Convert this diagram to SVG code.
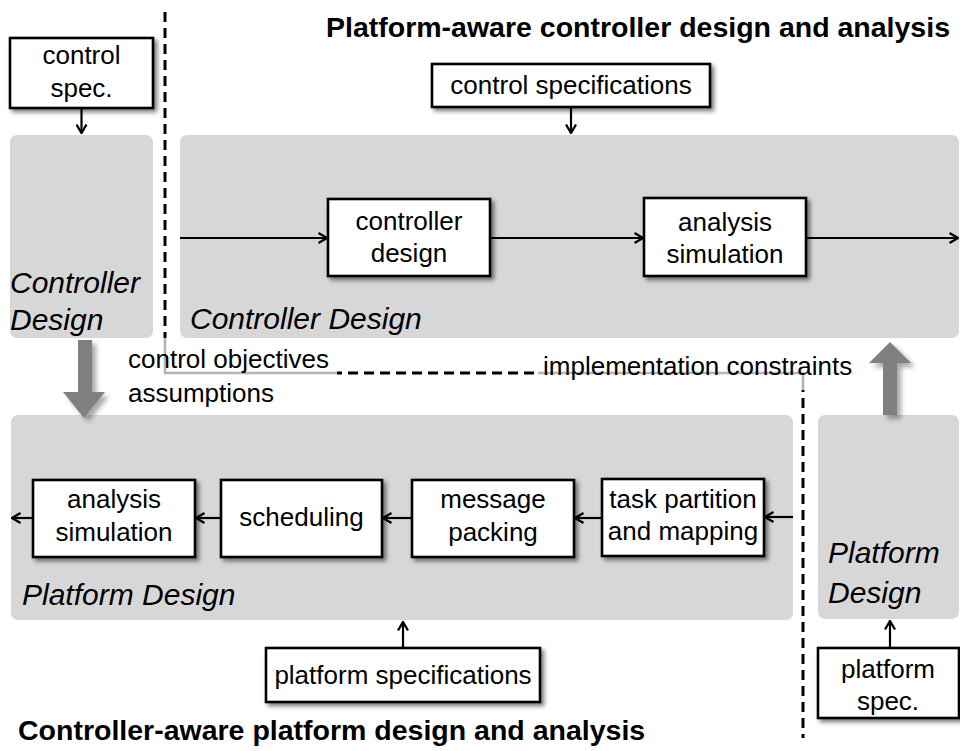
<svg xmlns="http://www.w3.org/2000/svg" width="960" height="751" viewBox="0 0 960 751">
  <style>
    .panel { fill: #d8d7d8; }
    .box { fill: #ffffff; stroke: #000000; stroke-width: 2.6; filter: url(#shadow); }
    .txt { font-family: "Liberation Sans", Arial, sans-serif; font-size: 26px; fill: #000000; text-anchor: middle; }
    .lbl { font-family: "Liberation Sans", Arial, sans-serif; font-size: 26px; fill: #000000; }
    .ital { font-family: "Liberation Sans", Arial, sans-serif; font-size: 30px; font-style: italic; fill: #000000; }
    .title { font-family: "Liberation Sans", Arial, sans-serif; font-size: 28.5px; font-weight: bold; fill: #000000; }
    .conn { fill: none; stroke: #000000; stroke-width: 2.2; marker-end: url(#arrow); }
    .dash { fill: none; stroke: #000000; stroke-width: 3; stroke-dasharray: 10 6; }
    .faint { fill: none; stroke: #b4b4b4; stroke-width: 2.5; }
    .big { fill: #808080; filter: url(#shadow2); }
  </style>
  <defs>
    <marker id="arrow" viewBox="0 0 12 12" refX="11" refY="6" markerWidth="12" markerHeight="12" markerUnits="userSpaceOnUse" orient="auto">
      <path d="M2.5,1 L11,6 L2.5,11" fill="none" stroke="#000000" stroke-width="2.3"/>
    </marker>
    <filter id="shadow" x="-10%" y="-10%" width="130%" height="140%">
      <feDropShadow dx="3" dy="3" stdDeviation="2" flood-color="#000000" flood-opacity="0.5"/>
    </filter>
    <filter id="shadow2" x="-30%" y="-20%" width="170%" height="150%">
      <feDropShadow dx="4" dy="4" stdDeviation="2.5" flood-color="#000000" flood-opacity="0.35"/>
    </filter>
  </defs>

  <rect width="960" height="751" fill="#ffffff"/>

  <!-- titles -->
  <text class="title" x="950" y="37" text-anchor="end">Platform-aware controller design and analysis</text>
  <text class="title" x="18" y="740">Controller-aware platform design and analysis</text>

  <!-- design panels -->
  <g id="ctrl-panel-small">
    <rect class="panel" x="10" y="135" width="143" height="203" rx="7"/>
    <text class="ital" x="10" y="293">Controller</text>
    <text class="ital" x="10" y="330">Design</text>
  </g>
  <g id="ctrl-panel-main">
    <rect class="panel" x="180" y="135" width="779" height="203" rx="7"/>
    <text class="ital" x="190" y="329">Controller Design</text>
  </g>
  <g id="plat-panel-main">
    <rect class="panel" x="11" y="415" width="782" height="205" rx="7"/>
    <text class="ital" x="22" y="605">Platform Design</text>
  </g>
  <g id="plat-panel-small">
    <rect class="panel" x="818" y="415" width="141" height="204" rx="7"/>
    <text class="ital" x="828" y="563">Platform</text>
    <text class="ital" x="828" y="603">Design</text>
  </g>

  <!-- boundary between the two design flows -->
  <g id="boundary">
    <path class="dash" d="M165,12 V373 H803 V738"/>
  </g>

  <!-- exchanged information labels -->
  <g id="label-objectives">
    <rect x="117" y="338" width="220" height="75" fill="#ffffff"/>
    <path class="faint" d="M165,338 V373 H337"/>
    <text class="lbl" x="128" y="368">control objectives</text>
    <text class="lbl" x="128" y="402">assumptions</text>
  </g>
  <g id="label-constraints">
    <rect x="538" y="345" width="320" height="45" fill="#ffffff"/>
    <path class="faint" d="M538,373 H803 V390"/>
    <text class="lbl" x="543" y="375">implementation constraints</text>
  </g>

  <!-- thick transfer arrows -->
  <g id="transfer-down">
    <polygon class="big" points="78,340 92,340 92,392 105,392 84,418 63,392 78,392"/>
  </g>
  <g id="transfer-up">
    <polygon class="big" points="883,415 897,415 897,363 911,363 890,342 869,363 883,363"/>
  </g>

  <!-- specification inputs -->
  <g id="control-spec">
    <rect class="box" x="10" y="38" width="143" height="70"/>
    <text class="txt" x="81.5" y="64">control</text>
    <text class="txt" x="81.5" y="97">spec.</text>
  </g>
  <g id="control-specifications">
    <rect class="box" x="432" y="64" width="278" height="43"/>
    <text class="txt" x="571" y="94">control specifications</text>
  </g>
  <g id="platform-specifications">
    <rect class="box" x="266" y="648" width="274" height="54"/>
    <text class="txt" x="403" y="684">platform specifications</text>
  </g>
  <g id="platform-spec">
    <rect class="box" x="818" y="648" width="141" height="70"/>
    <text class="txt" x="888" y="678">platform</text>
    <text class="txt" x="888" y="710">spec.</text>
  </g>

  <!-- controller design flow -->
  <g id="controller-design">
    <rect class="box" x="328" y="199" width="162" height="77"/>
    <text class="txt" x="409" y="230">controller</text>
    <text class="txt" x="409" y="262">design</text>
  </g>
  <g id="ctrl-analysis">
    <rect class="box" x="644" y="198" width="162" height="78"/>
    <text class="txt" x="725" y="231">analysis</text>
    <text class="txt" x="725" y="263">simulation</text>
  </g>

  <!-- platform design flow -->
  <g id="task-partition">
    <rect class="box" x="602" y="479" width="162" height="77"/>
    <text class="txt" x="683" y="508">task partition</text>
    <text class="txt" x="683" y="540">and mapping</text>
  </g>
  <g id="message-packing">
    <rect class="box" x="412" y="480" width="162" height="77"/>
    <text class="txt" x="493" y="508">message</text>
    <text class="txt" x="493" y="541">packing</text>
  </g>
  <g id="scheduling">
    <rect class="box" x="221" y="480" width="161" height="77"/>
    <text class="txt" x="301.5" y="526">scheduling</text>
  </g>
  <g id="plat-analysis">
    <rect class="box" x="33" y="480" width="162" height="77"/>
    <text class="txt" x="114" y="508">analysis</text>
    <text class="txt" x="114" y="541">simulation</text>
  </g>

  <!-- connectors -->
  <g id="connectors">
    <path class="conn" d="M81.5,109 V133"/>
    <path class="conn" d="M571,108 V133"/>
    <path class="conn" d="M180,238 H327"/>
    <path class="conn" d="M491,238 H643"/>
    <path class="conn" d="M807,238 H958"/>
    <path class="conn" d="M793,517 H765"/>
    <path class="conn" d="M602,518 H575"/>
    <path class="conn" d="M412,518 H383"/>
    <path class="conn" d="M221,518 H196"/>
    <path class="conn" d="M33,518 H12"/>
    <path class="conn" d="M403,647 V622"/>
    <path class="conn" d="M890,647 V621"/>
  </g>
</svg>
